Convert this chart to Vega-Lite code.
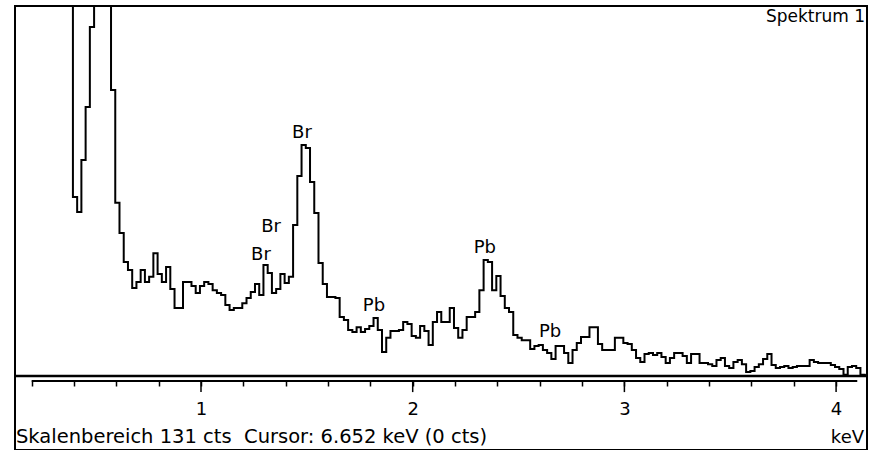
{
  "$schema": "https://vega.github.io/schema/vega-lite/v6.json",
  "autosize": "none",
  "width": 852,
  "height": 444,
  "padding": {"left": 15, "top": 6, "right": 9, "bottom": 0},
  "background": "white",
  "config": {"view": {"stroke": "black", "strokeWidth": 2}},
  "datasets": {
    "spectrum": [
      {"keV": 0.375, "cts": 250}, {"keV": 0.395, "cts": 63.4}, {"keV": 0.415, "cts": 58.1}, {"keV": 0.435, "cts": 76.5},
      {"keV": 0.455, "cts": 95.2}, {"keV": 0.475, "cts": 123.6}, {"keV": 0.495, "cts": 170}, {"keV": 0.515, "cts": 230},
      {"keV": 0.535, "cts": 260}, {"keV": 0.555, "cts": 200}, {"keV": 0.575, "cts": 101.3}, {"keV": 0.595, "cts": 61.3},
      {"keV": 0.615, "cts": 50.6}, {"keV": 0.635, "cts": 40.4}, {"keV": 0.655, "cts": 37.5}, {"keV": 0.675, "cts": 31.2},
      {"keV": 0.695, "cts": 33.3}, {"keV": 0.715, "cts": 37.5}, {"keV": 0.735, "cts": 33.3}, {"keV": 0.755, "cts": 35.1},
      {"keV": 0.775, "cts": 43.5}, {"keV": 0.795, "cts": 36.1}, {"keV": 0.815, "cts": 33.3}, {"keV": 0.835, "cts": 38.6},
      {"keV": 0.855, "cts": 30.8}, {"keV": 0.875, "cts": 24.1}, {"keV": 0.895, "cts": 24.1}, {"keV": 0.915, "cts": 33.3},
      {"keV": 0.935, "cts": 33.3}, {"keV": 0.955, "cts": 31.9}, {"keV": 0.975, "cts": 29.4}, {"keV": 0.995, "cts": 31.9},
      {"keV": 1.015, "cts": 33.3}, {"keV": 1.035, "cts": 32.6}, {"keV": 1.055, "cts": 30.4}, {"keV": 1.075, "cts": 29.4},
      {"keV": 1.095, "cts": 28.7}, {"keV": 1.115, "cts": 25.1}, {"keV": 1.135, "cts": 23.4}, {"keV": 1.155, "cts": 24.1},
      {"keV": 1.175, "cts": 24.1}, {"keV": 1.195, "cts": 25.8}, {"keV": 1.215, "cts": 27.6}, {"keV": 1.235, "cts": 29.7},
      {"keV": 1.255, "cts": 32.6}, {"keV": 1.275, "cts": 28.7}, {"keV": 1.295, "cts": 39.3}, {"keV": 1.315, "cts": 36.5},
      {"keV": 1.335, "cts": 29.4}, {"keV": 1.355, "cts": 30.8}, {"keV": 1.375, "cts": 36.1}, {"keV": 1.395, "cts": 32.9},
      {"keV": 1.415, "cts": 35.1}, {"keV": 1.435, "cts": 53.5}, {"keV": 1.455, "cts": 70.8}, {"keV": 1.475, "cts": 81.8},
      {"keV": 1.495, "cts": 80.7}, {"keV": 1.515, "cts": 68.7}, {"keV": 1.535, "cts": 57.7}, {"keV": 1.555, "cts": 40.0},
      {"keV": 1.575, "cts": 32.6}, {"keV": 1.595, "cts": 28.0}, {"keV": 1.615, "cts": 28.0}, {"keV": 1.635, "cts": 27.6},
      {"keV": 1.655, "cts": 20.9}, {"keV": 1.675, "cts": 19.8}, {"keV": 1.695, "cts": 16.3}, {"keV": 1.715, "cts": 15.6},
      {"keV": 1.735, "cts": 17.3}, {"keV": 1.755, "cts": 15.6}, {"keV": 1.775, "cts": 16.6}, {"keV": 1.795, "cts": 17.7},
      {"keV": 1.815, "cts": 20.5}, {"keV": 1.835, "cts": 16.3}, {"keV": 1.855, "cts": 8.5}, {"keV": 1.875, "cts": 13.5},
      {"keV": 1.895, "cts": 15.9}, {"keV": 1.915, "cts": 15.9}, {"keV": 1.935, "cts": 16.3}, {"keV": 1.955, "cts": 19.1},
      {"keV": 1.975, "cts": 18.4}, {"keV": 1.995, "cts": 14.2}, {"keV": 2.015, "cts": 13.5}, {"keV": 2.035, "cts": 17.7},
      {"keV": 2.055, "cts": 15.9}, {"keV": 2.075, "cts": 11.0}, {"keV": 2.095, "cts": 19.1}, {"keV": 2.115, "cts": 22.7},
      {"keV": 2.135, "cts": 19.1}, {"keV": 2.155, "cts": 19.1}, {"keV": 2.175, "cts": 24.1}, {"keV": 2.195, "cts": 17.0},
      {"keV": 2.215, "cts": 13.5}, {"keV": 2.235, "cts": 16.3}, {"keV": 2.255, "cts": 20.9}, {"keV": 2.275, "cts": 20.9},
      {"keV": 2.295, "cts": 22.7}, {"keV": 2.315, "cts": 30.4}, {"keV": 2.335, "cts": 41.1}, {"keV": 2.355, "cts": 40.4},
      {"keV": 2.375, "cts": 30.4}, {"keV": 2.395, "cts": 35.4}, {"keV": 2.415, "cts": 28.3}, {"keV": 2.435, "cts": 24.1},
      {"keV": 2.455, "cts": 22.7}, {"keV": 2.475, "cts": 14.5}, {"keV": 2.495, "cts": 13.5}, {"keV": 2.515, "cts": 12.7},
      {"keV": 2.535, "cts": 12.7}, {"keV": 2.555, "cts": 9.6}, {"keV": 2.575, "cts": 10.6}, {"keV": 2.595, "cts": 11.0},
      {"keV": 2.615, "cts": 9.2}, {"keV": 2.635, "cts": 8.1}, {"keV": 2.655, "cts": 6.0}, {"keV": 2.675, "cts": 10.6},
      {"keV": 2.695, "cts": 10.6}, {"keV": 2.715, "cts": 8.1}, {"keV": 2.735, "cts": 4.6}, {"keV": 2.755, "cts": 9.2},
      {"keV": 2.775, "cts": 11.7}, {"keV": 2.795, "cts": 13.8}, {"keV": 2.815, "cts": 13.8}, {"keV": 2.835, "cts": 17.3},
      {"keV": 2.855, "cts": 17.3}, {"keV": 2.875, "cts": 11.3}, {"keV": 2.895, "cts": 9.2}, {"keV": 2.915, "cts": 9.2},
      {"keV": 2.935, "cts": 9.2}, {"keV": 2.955, "cts": 13.5}, {"keV": 2.975, "cts": 13.5}, {"keV": 2.995, "cts": 11.7},
      {"keV": 3.015, "cts": 11.3}, {"keV": 3.035, "cts": 9.2}, {"keV": 3.055, "cts": 6.4}, {"keV": 3.075, "cts": 5.0},
      {"keV": 3.095, "cts": 7.8}, {"keV": 3.115, "cts": 8.1}, {"keV": 3.135, "cts": 7.4}, {"keV": 3.155, "cts": 8.1},
      {"keV": 3.175, "cts": 6.7}, {"keV": 3.195, "cts": 4.6}, {"keV": 3.215, "cts": 6.4}, {"keV": 3.235, "cts": 8.1},
      {"keV": 3.255, "cts": 8.1}, {"keV": 3.275, "cts": 7.1}, {"keV": 3.295, "cts": 4.6}, {"keV": 3.315, "cts": 7.8},
      {"keV": 3.335, "cts": 7.8}, {"keV": 3.355, "cts": 4.6}, {"keV": 3.375, "cts": 4.6}, {"keV": 3.395, "cts": 4.2},
      {"keV": 3.415, "cts": 3.5}, {"keV": 3.435, "cts": 5.7}, {"keV": 3.455, "cts": 6.4}, {"keV": 3.475, "cts": 3.5},
      {"keV": 3.495, "cts": 2.8}, {"keV": 3.515, "cts": 5.0}, {"keV": 3.535, "cts": 5.7}, {"keV": 3.555, "cts": 4.2},
      {"keV": 3.575, "cts": 1.4}, {"keV": 3.595, "cts": 1.8}, {"keV": 3.615, "cts": 3.2}, {"keV": 3.635, "cts": 4.2},
      {"keV": 3.655, "cts": 6.0}, {"keV": 3.675, "cts": 7.8}, {"keV": 3.695, "cts": 3.9}, {"keV": 3.715, "cts": 2.8},
      {"keV": 3.735, "cts": 3.2}, {"keV": 3.755, "cts": 3.5}, {"keV": 3.775, "cts": 2.8}, {"keV": 3.795, "cts": 3.2},
      {"keV": 3.815, "cts": 3.5}, {"keV": 3.835, "cts": 3.5}, {"keV": 3.855, "cts": 3.5}, {"keV": 3.875, "cts": 5.7},
      {"keV": 3.895, "cts": 5.0}, {"keV": 3.915, "cts": 4.6}, {"keV": 3.935, "cts": 4.6}, {"keV": 3.955, "cts": 4.6},
      {"keV": 3.975, "cts": 3.9}, {"keV": 3.995, "cts": 3.2}, {"keV": 4.015, "cts": 2.5}, {"keV": 4.035, "cts": 0.4},
      {"keV": 4.055, "cts": 3.2}, {"keV": 4.075, "cts": 3.5}, {"keV": 4.095, "cts": 2.8}, {"keV": 4.115, "cts": 0.4},
      {"keV": 4.135, "cts": 0.3}, {"keV": 4.155, "cts": 0.3}
    ],
    "peaks": [
      {"label": "Br", "keV": 1.477, "cts": 84.3},
      {"label": "Br", "keV": 1.331, "cts": 51.1},
      {"label": "Br", "keV": 1.283, "cts": 41.1},
      {"label": "Pb", "keV": 1.817, "cts": 22.9},
      {"label": "Pb", "keV": 2.341, "cts": 43.4},
      {"label": "Pb", "keV": 2.649, "cts": 13.7}
    ],
    "majors": [{"keV": 1}, {"keV": 2}, {"keV": 3}, {"keV": 4}]
  },
  "layer": [
    {
      "data": {"values": [{}]},
      "mark": {"type": "rule", "color": "black", "strokeWidth": 2.5},
      "encoding": {
        "y": {"datum": 0, "type": "quantitative", "scale": {"domain": [-26.2, 131], "nice": false, "zero": false}, "axis": null}
      }
    },
    {
      "data": {"values": [{}]},
      "mark": {"type": "rule", "color": "black", "strokeWidth": 2},
      "encoding": {
        "x": {"datum": 0.2, "type": "quantitative", "title": null, "scale": {"domain": [0.1214, 4.146], "nice": false, "zero": false}},
        "x2": {"datum": 4.1},
        "y": {"datum": -1.77, "type": "quantitative", "scale": {"domain": [-26.2, 131], "nice": false, "zero": false}, "axis": null}
      }
    },
    {
      "data": {"name": "majors"},
      "mark": {"type": "rule", "color": "black", "strokeWidth": 1.5},
      "encoding": {
        "x": {"field": "keV", "type": "quantitative", "title": null, "scale": {"domain": [0.1214, 4.146], "nice": false, "zero": false}},
        "y": {"datum": -1.77, "type": "quantitative", "scale": {"domain": [-26.2, 131], "nice": false, "zero": false}, "axis": null},
        "y2": {"datum": -5.7}
      }
    },
    {
      "data": {"name": "spectrum"},
      "mark": {"type": "line", "interpolate": "step-after", "color": "black", "strokeWidth": 2, "clip": true},
      "encoding": {
        "x": {
          "field": "keV", "type": "quantitative", "title": null,
          "scale": {"domain": [0.1214, 4.146], "nice": false, "zero": false},
          "axis": {
            "title": null,
            "domain": false,
            "grid": false,
            "offset": -69,
            "values": [0.2, 0.3, 0.4, 0.5, 0.6, 0.7, 0.8, 0.9, 1, 1.1, 1.2, 1.3, 1.4, 1.5, 1.6, 1.7, 1.8, 1.9, 2, 2.1, 2.2, 2.3, 2.4, 2.5, 2.6, 2.7, 2.8, 2.9, 3, 3.1, 3.2, 3.3, 3.4, 3.5, 3.6, 3.7, 3.8, 3.9, 4, 4.1],
            "labelExpr": "datum.value % 1 === 0 ? format(datum.value, 'd') : ''",
            "labelOverlap": false,
            "labelBound": false,
            "labelFlush": false,
            "labelFont": "DejaVu Sans",
            "labelFontSize": 18,
            "labelColor": "black",
            "labelPadding": 14,
            "tickColor": "black",
            "tickWidth": 1.5,
            "tickSize": 5
          }
        },
        "y": {"field": "cts", "type": "quantitative", "scale": {"domain": [-26.2, 131], "nice": false, "zero": false}, "axis": null}
      }
    },
    {
      "data": {"name": "peaks"},
      "mark": {"type": "text", "font": "DejaVu Sans", "fontSize": 18, "color": "black", "align": "center", "baseline": "alphabetic"},
      "encoding": {
        "x": {"field": "keV", "type": "quantitative", "title": null, "scale": {"domain": [0.1214, 4.146], "nice": false, "zero": false}},
        "y": {"field": "cts", "type": "quantitative", "scale": {"domain": [-26.2, 131], "nice": false, "zero": false}, "axis": null},
        "text": {"field": "label"}
      }
    },
    {
      "data": {"values": [{}]},
      "mark": {"type": "text", "font": "DejaVu Sans", "fontSize": 17, "color": "black", "align": "right", "baseline": "alphabetic", "text": "Spektrum 1"},
      "encoding": {
        "x": {"datum": 4.137, "type": "quantitative", "title": null, "scale": {"domain": [0.1214, 4.146], "nice": false, "zero": false}},
        "y": {"datum": 125.5, "type": "quantitative", "scale": {"domain": [-26.2, 131], "nice": false, "zero": false}, "axis": null}
      }
    },
    {
      "data": {"values": [{}]},
      "mark": {"type": "text", "font": "DejaVu Sans", "fontSize": 19.5, "color": "black", "align": "left", "baseline": "alphabetic", "text": "Skalenbereich 131 cts \u00a0Cursor: 6.652 keV (0 cts)"},
      "encoding": {
        "x": {"datum": 0.126, "type": "quantitative", "title": null, "scale": {"domain": [0.1214, 4.146], "nice": false, "zero": false}},
        "y": {"datum": -23.7, "type": "quantitative", "scale": {"domain": [-26.2, 131], "nice": false, "zero": false}, "axis": null}
      }
    },
    {
      "data": {"values": [{}]},
      "mark": {"type": "text", "font": "DejaVu Sans", "fontSize": 18, "color": "black", "align": "right", "baseline": "alphabetic", "text": "keV"},
      "encoding": {
        "x": {"datum": 4.132, "type": "quantitative", "title": null, "scale": {"domain": [0.1214, 4.146], "nice": false, "zero": false}},
        "y": {"datum": -23.7, "type": "quantitative", "scale": {"domain": [-26.2, 131], "nice": false, "zero": false}, "axis": null}
      }
    }
  ]
}
